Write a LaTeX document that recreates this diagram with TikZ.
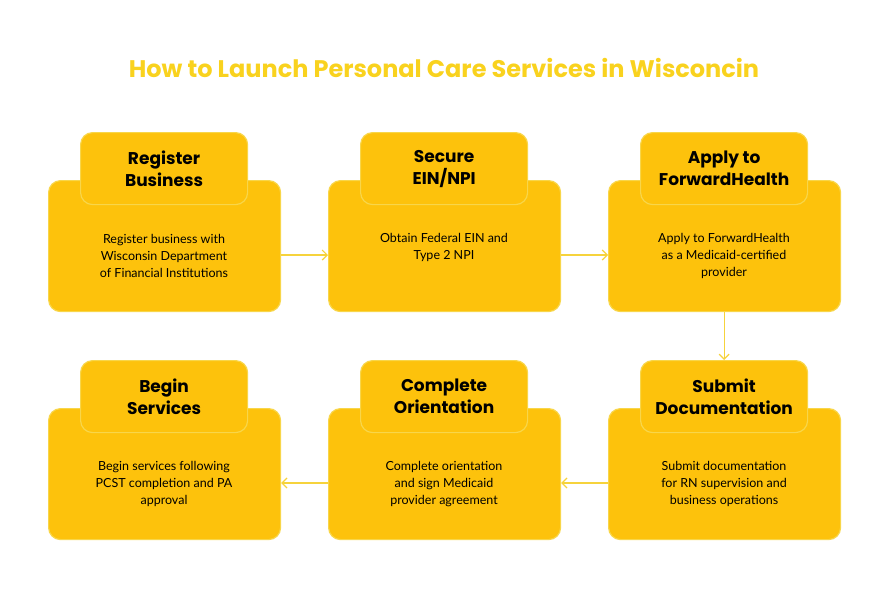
\documentclass[tikz,border=0pt]{standalone}
\usepackage{fontspec}
\setmainfont{Lato}
\newfontfamily\headfont{Poppins}
\usetikzlibrary{arrows.meta}
\definecolor{boxfill}{HTML}{FDC20C}
\definecolor{boxline}{HTML}{F8D64A}
\definecolor{titlecol}{HTML}{F9D21E}
\definecolor{arrcol}{HTML}{F6D33C}
\begin{document}
\begin{tikzpicture}[x=1pt,y=-1pt,
  big/.style={draw=boxline,line width=1.2pt,fill=boxfill,rounded corners=12pt,minimum width=232pt,minimum height=131pt,anchor=north west,inner sep=0pt},
  head/.style={draw=boxline,line width=1.2pt,fill=boxfill,rounded corners=12pt,minimum width=167pt,minimum height=72pt,anchor=north west,align=center,font=\headfont\bfseries\fontsize{17}{22}\selectfont,inner sep=0pt},
  body/.style={align=center,font=\fontsize{12.5}{17}\selectfont,text=black},
  arr/.style={draw=arrcol,line width=1.2pt,-{Straight Barb[length=5pt,width=10pt]}}]
\useasboundingbox (0,0) rectangle (888,606);
\node[font=\headfont\bfseries\fontsize{24}{28}\selectfont,text=titlecol] (title) at (444,68) {How to Launch Personal Care Services in Wisconcin};
% row 1
\node[big] (b1) at (48,180) {};
\node[big] (b2) at (328,180) {};
\node[big] (b3) at (608,180) {};
\node[head] (h1) at (80,132) {Register\\Business};
\node[head] (h2) at (360,132) {Secure\\EIN/NPI};
\node[head] (h3) at (640,132) {Apply to\\ForwardHealth};
\node[body] (t1) at (164,256) {Register business with\\Wisconsin Department\\of Financial Institutions};
\node[body] (t2) at (444,247) {Obtain Federal EIN and\\Type 2 NPI};
\node[body] (t3) at (724,256) {Apply to ForwardHealth\\as a Medicaid-certified\\provider};
% row 2
\node[big] (b4) at (48,408) {};
\node[big] (b5) at (328,408) {};
\node[big] (b6) at (608,408) {};
\node[head] (h4) at (80,360) {Begin\\Services};
\node[head] (h5) at (360,360) {Complete\\Orientation};
\node[head] (h6) at (640,360) {Submit\\Documentation};
\node[body] (t4) at (164,484) {Begin services following\\PCST completion and PA\\approval};
\node[body] (t5) at (444,484) {Complete orientation\\and sign Medicaid\\provider agreement};
\node[body] (t6) at (724,484) {Submit documentation\\for RN supervision and\\business operations};
% arrows
\draw[arr] (b1.east |- 0,255) -- (b2.west |- 0,255);
\draw[arr] (b2.east |- 0,255) -- (b3.west |- 0,255);
\draw[arr] (b3.south -| h3.south) -- (h6.north);
\draw[arr] (b6.west |- 0,483) -- (b5.east |- 0,483);
\draw[arr] (b5.west |- 0,483) -- (b4.east |- 0,483);
\end{tikzpicture}
\end{document}
